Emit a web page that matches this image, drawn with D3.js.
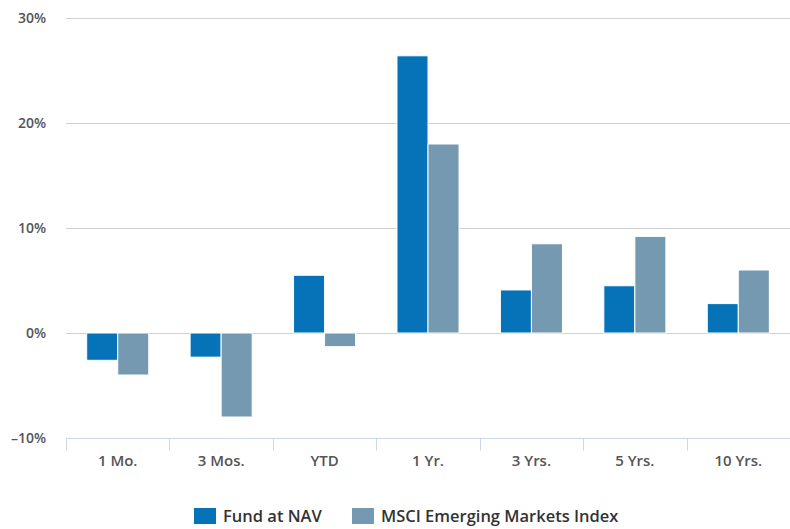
<!DOCTYPE html>
<html>
<head>
<meta charset="utf-8">
<script src="https://cdn.jsdelivr.net/npm/d3@7"></script>
<style>
  body { margin: 0; background: #fff; }
  text { font-family: "Open Sans", sans-serif; }
</style>
</head>
<body>
<div id="container"></div>
<script>
// data
const categories = ['1 Mo.', '3 Mos.', 'YTD', '1 Yr.', '3 Yrs.', '5 Yrs.', '10 Yrs.'];
const seriesNames = ['Fund at NAV', 'MSCI Emerging Markets Index'];
const fundValues = [-2.6, -2.3, 5.5, 26.4, 4.1, 4.5, 2.8];
const indexValues = [-4.0, -8.0, -1.3, 18.0, 8.5, 9.2, 6.0];
const yTicks = [-10, 0, 10, 20, 30];

const colors = ['#0673b9', '#7499b0'];

const width = 790, height = 529;
const margin = { top: 18, right: 0, bottom: 91, left: 66 };

const svg = d3.select('#container')
    .append('svg')
    .attr('width', width)
    .attr('height', height);

const x = d3.scaleBand()
    .domain(categories)
    .range([margin.left, width - margin.right])
    .paddingInner(0)
    .paddingOuter(0);

// two bars fill the middle 60% of each category
const xSub = d3.scaleBand()
    .domain([0, 1])
    .range([0, x.bandwidth()])
    .paddingInner(0)
    .paddingOuter(2 / 3);

const y = d3.scaleLinear()
    .domain([-10, 30])
    .range([height - margin.bottom, margin.top]);

// gridlines
svg.append('g')
    .selectAll('line')
    .data(yTicks.filter(t => t !== -10))
    .enter()
    .append('line')
    .attr('x1', margin.left)
    .attr('x2', width - margin.right)
    .attr('y1', d => Math.round(y(d)) + 0.5)
    .attr('y2', d => Math.round(y(d)) + 0.5)
    .attr('stroke', '#d0d0d0')
    .attr('stroke-width', 1);

// y labels
svg.append('g')
    .selectAll('text')
    .data(yTicks)
    .enter()
    .append('text')
    .attr('x', 46)
    .attr('y', d => y(d))
    .attr('dy', '0.35em')
    .attr('text-anchor', 'end')
    .attr('fill', '#555')
    .attr('font-size', 14)
    .attr('font-weight', 600)
    .text(d => (d < 0 ? '\u2013' + Math.abs(d) : d) + '%');

// bars
const rows = categories.map((c, i) => ({ cat: c, vals: [fundValues[i], indexValues[i]] }));

const groups = svg.append('g')
    .selectAll('g')
    .data(rows)
    .enter()
    .append('g')
    .attr('transform', d => `translate(${x(d.cat)},0)`);

groups.selectAll('rect')
    .data(d => d.vals.map((v, k) => ({ v, k })))
    .enter()
    .append('rect')
    .attr('x', d => xSub(d.k))
    .attr('width', xSub.bandwidth())
    .attr('y', d => y(Math.max(0, d.v)))
    .attr('height', d => Math.abs(y(d.v) - y(0)))
    .attr('fill', d => colors[d.k])
    .attr('stroke', '#fff')
    .attr('stroke-width', 1);

// x axis
const axisY = Math.round(y(-10)) + 0.5;
const xAxis = svg.append('g');

xAxis.append('line')
    .attr('x1', margin.left)
    .attr('x2', width - margin.right)
    .attr('y1', axisY)
    .attr('y2', axisY)
    .attr('stroke', '#ccd6eb')
    .attr('stroke-width', 1);

xAxis.selectAll('line.tick')
    .data(categories)
    .enter()
    .append('line')
    .attr('class', 'tick')
    .attr('x1', d => Math.round(x(d)) + 0.5)
    .attr('x2', d => Math.round(x(d)) + 0.5)
    .attr('y1', axisY)
    .attr('y2', axisY + 12)
    .attr('stroke', '#ccd6eb');

xAxis.selectAll('text')
    .data(categories)
    .enter()
    .append('text')
    .attr('x', d => x(d) + x.bandwidth() / 2)
    .attr('y', axisY + 22)
    .attr('dy', '0.35em')
    .attr('text-anchor', 'middle')
    .attr('fill', '#555')
    .attr('font-size', 15)
    .attr('font-weight', 600)
    .text(d => d);

// legend
const legendX = [194, 352];
const legend = svg.append('g')
    .selectAll('g')
    .data(seriesNames)
    .enter()
    .append('g')
    .attr('transform', (d, i) => `translate(${legendX[i]},508)`);

legend.append('rect')
    .attr('width', 22)
    .attr('height', 16)
    .attr('fill', (d, i) => colors[i]);

legend.append('text')
    .attr('x', 29)
    .attr('y', 8)
    .attr('dy', '0.35em')
    .attr('fill', '#333')
    .attr('font-size', 16.5)
    .attr('font-weight', 600)
    .text(d => d);
</script>
</body>
</html>
